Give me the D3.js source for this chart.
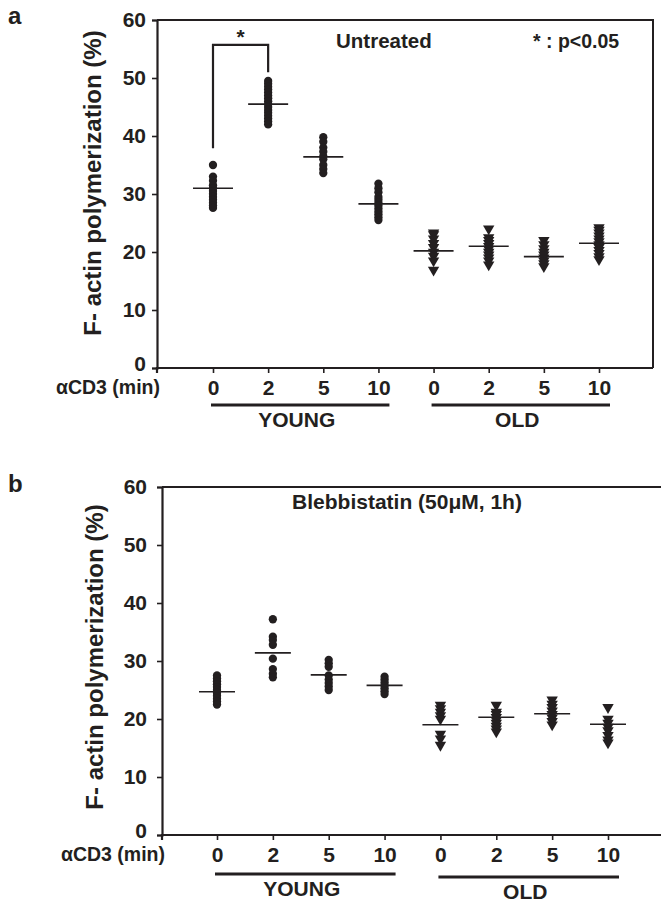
<!DOCTYPE html>
<html lang="en">
<head>
<meta charset="UTF-8">
<title>F-actin polymerization</title>
<script src="https://d3js.org/d3.v7.min.js"></script>
<style>
    body { margin: 0; background: #fff; }
    svg text { font-family: "Liberation Sans", Arial, sans-serif; font-weight: bold; fill: #231f20; }
</style>
</head>
<body>
<svg id="chart" width="661" height="903"></svg>
<script>
    // categories (young 0,2,5,10 min then old 0,2,5,10 min)
    const groups = ["Y0", "Y2", "Y5", "Y10", "O0", "O2", "O5", "O10"];
    const tickLabels = ["0", "2", "5", "10", "0", "2", "5", "10"];
    const yTicks = [0, 10, 20, 30, 40, 50, 60];

    // panel a - untreated
    const untreatedValues = [
        [35.0, 33.0, 32.3, 31.5, 31.0, 30.5, 30.0, 29.5, 29.0, 28.5, 28.0, 27.6],
        [49.5, 49.0, 48.5, 48.0, 47.5, 47.0, 46.5, 46.0, 45.5, 45.0, 44.5, 44.0, 43.5, 43.0, 42.5, 42.0],
        [39.8, 39.0, 38.0, 37.3, 36.5, 36.0, 35.0, 34.3, 33.6],
        [31.8, 31.0, 30.3, 29.5, 29.0, 28.5, 28.0, 27.5, 27.0, 26.5, 26.0, 25.5],
        [23.3, 23.0, 22.3, 21.5, 20.8, 20.0, 19.3, 18.5, 16.9],
        [24.0, 22.5, 22.0, 21.5, 21.0, 20.5, 20.0, 19.5, 19.0, 18.5, 17.8],
        [22.0, 21.3, 20.6, 20.0, 19.5, 19.0, 18.5, 18.0, 17.5],
        [24.2, 23.8, 23.3, 22.8, 22.3, 21.8, 21.3, 20.8, 20.3, 19.8, 19.2, 18.7]
    ];
    const untreatedMeans = [31.0, 45.5, 36.4, 28.3, 20.2, 21.0, 19.2, 21.5];
    // significance bracket: left foot, top, right foot
    const bracketLevels = [37.9, 55.7, 51.0];

    // panel b - blebbistatin
    const blebValues = [
        [27.5, 27.0, 26.5, 26.0, 25.5, 25.0, 24.5, 24.0, 23.5, 23.0, 22.5],
        [37.2, 34.2, 33.6, 32.8, 30.4, 28.6, 27.8, 27.2],
        [30.2, 29.6, 29.0, 27.5, 26.8, 26.2, 25.6, 25.0],
        [27.3, 26.8, 26.3, 25.8, 25.3, 24.8, 24.3],
        [22.4, 21.8, 21.2, 20.6, 20.0, 17.4, 16.6, 15.5],
        [22.4, 21.2, 20.8, 20.3, 19.8, 19.3, 18.8, 18.3, 17.8],
        [23.3, 22.6, 22.0, 21.4, 20.8, 20.2, 19.6, 19.0],
        [22.0, 20.0, 19.3, 18.6, 18.0, 17.2, 16.4, 15.9]
    ];
    const blebMeans = [24.7, 31.4, 27.6, 25.8, 19.0, 20.3, 20.9, 19.1];

    const svg = d3.select("#chart");
    const ink = "#231f20";

    function drawPanel(p) {
        const g = svg.append("g");
        const x = d3.scalePoint().domain(groups).range([p.x0, p.x1]);
        const y = d3.scaleLinear().domain([0, 60]).range([p.bottom, p.top]);

        // frame: top and right
        g.append("path")
            .attr("d", `M${p.left},${p.top} H${p.right} V${p.bottom}`)
            .attr("fill", "none").attr("stroke", ink).attr("stroke-width", 2);

        // y axis
        const yAxis = g.append("g")
            .attr("transform", `translate(${p.left},0)`)
            .call(d3.axisLeft(y).tickValues(yTicks).tickSize(5).tickPadding(p.yPad));
        yAxis.select(".domain").attr("stroke", ink).attr("stroke-width", 2.2);
        yAxis.selectAll(".tick line").attr("stroke", ink).attr("stroke-width", 1.6);
        yAxis.selectAll("text").attr("font-size", 21).attr("fill", ink);
        yAxis.selectAll(".tick").filter(d => d === 0).select("text").attr("dy", "0.12em");

        // x axis
        const xAxis = g.append("g")
            .attr("transform", `translate(0,${p.bottom})`)
            .call(d3.axisBottom(x).tickSize(5).tickPadding(7).tickFormat((d, i) => tickLabels[i]));
        xAxis.select(".domain")
            .attr("d", `M${p.left},5V0H${p.right}`)
            .attr("stroke", ink).attr("stroke-width", 2.2);
        xAxis.selectAll(".tick line").attr("stroke", ink).attr("stroke-width", 1.6);
        xAxis.selectAll("text").attr("font-size", 21).attr("fill", ink);

        g.append("text")
            .attr("x", p.left + 3).attr("y", p.bottom + 26)
            .attr("text-anchor", "end").attr("font-size", 19.5)
            .text("αCD3 (min)");

        // YOUNG / OLD bars
        const sets = [
            { name: "YOUNG", a: groups[0], b: groups[3], yy: p.yBarY },
            { name: "OLD", a: groups[4], b: groups[7], yy: p.oBarY }
        ];
        sets.forEach(s => {
            g.append("line")
                .attr("x1", x(s.a) - 2).attr("x2", x(s.b) + 11)
                .attr("y1", s.yy).attr("y2", s.yy)
                .attr("stroke", ink).attr("stroke-width", 3);
            g.append("text")
                .attr("x", (x(s.a) + x(s.b)) / 2 + 1).attr("y", s.yy + 22)
                .attr("text-anchor", "middle").attr("font-size", 21)
                .text(s.name);
        });

        // y title
        g.append("text")
            .attr("transform", `translate(${p.titleX},${p.titleY}) rotate(-90)`)
            .attr("text-anchor", "middle").attr("font-size", 24)
            .text("F- actin polymerization (%)");

        // panel letter
        g.append("text")
            .attr("x", 8).attr("y", p.letterY)
            .attr("font-size", 24)
            .text(p.letter);

        // points
        p.values.forEach((vals, gi) => {
            const cx = x(groups[gi]);
            const young = gi < 4;
            g.selectAll(null)
                .data(vals)
                .enter()
                .append("path")
                .attr("d", young ? d3.symbol(d3.symbolCircle, 54)() : d3.symbol(d3.symbolTriangle, 56)())
                .attr("transform", d => `translate(${cx},${y(d)})` + (young ? "" : " rotate(180)"))
                .attr("fill", ink);
        });

        // mean lines
        g.selectAll(null)
            .data(p.means)
            .enter()
            .append("line")
            .attr("x1", (d, i) => x(groups[i]) - p.meanHalf)
            .attr("x2", (d, i) => x(groups[i]) + p.meanHalf)
            .attr("y1", d => y(d)).attr("y2", d => y(d))
            .attr("stroke", ink).attr("stroke-width", 1.6);

        return { g, x, y };
    }

    const a = drawPanel({
        letter: "a", letterY: 24,
        left: 157, right: 653, top: 20, bottom: 368,
        x0: 213, x1: 599, yPad: 6,
        yBarY: 405, oBarY: 405,
        titleX: 101, titleY: 183,
        values: untreatedValues, means: untreatedMeans, meanHalf: 20
    });

    // significance bracket
    a.g.append("path")
        .attr("d", `M${a.x(groups[0])},${a.y(bracketLevels[0])} V${a.y(bracketLevels[1])} H${a.x(groups[1])} V${a.y(bracketLevels[2])}`)
        .attr("fill", "none").attr("stroke", ink).attr("stroke-width", 2.2);
    a.g.append("text")
        .attr("x", (a.x(groups[0]) + a.x(groups[1])) / 2).attr("y", a.y(bracketLevels[1]) - 1)
        .attr("text-anchor", "middle").attr("font-size", 21)
        .text("*");

    a.g.append("text").attr("x", 336).attr("y", 48).attr("font-size", 20.5).text("Untreated");
    a.g.append("text").attr("x", 533).attr("y", 48).attr("font-size", 19.5).text("* : p<0.05");

    const b = drawPanel({
        letter: "b", letterY: 492,
        left: 162, right: 670, top: 487, bottom: 835,
        x0: 217, x1: 608, yPad: 10,
        yBarY: 874, oBarY: 877,
        titleX: 103, titleY: 657,
        values: blebValues, means: blebMeans, meanHalf: 18
    });

    b.g.append("text")
        .attr("x", 407).attr("y", 509)
        .attr("text-anchor", "middle").attr("font-size", 21)
        .text("Blebbistatin (50μM, 1h)");
</script>
</body>
</html>
